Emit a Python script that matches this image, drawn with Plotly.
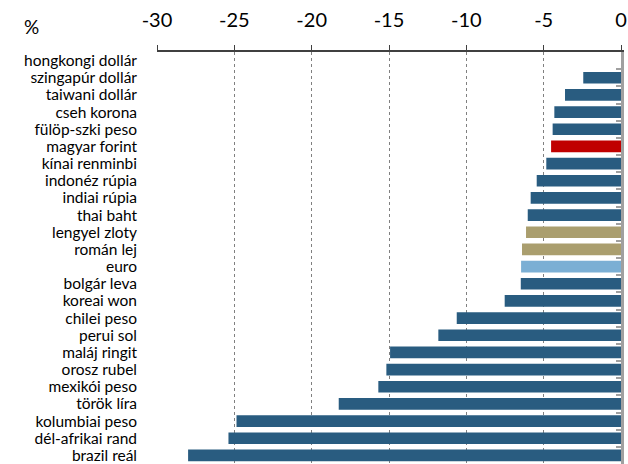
import plotly.graph_objects as go

categories = ["hongkongi dollár", "szingapúr dollár", "taiwani dollár", "cseh korona",
              "fülöp-szki peso", "magyar forint", "kínai renminbi", "indonéz rúpia",
              "indiai rúpia", "thai baht", "lengyel zloty", "román lej", "euro",
              "bolgár leva", "koreai won", "chilei peso", "perui sol", "maláj ringit",
              "orosz rubel", "mexikói peso", "török líra", "kolumbiai peso",
              "dél-afrikai rand", "brazil reál"]
values = [0.0, -2.44, -3.62, -4.31, -4.42, -4.52, -4.83, -5.45, -5.84, -6.03, -6.14,
          -6.40, -6.46, -6.48, -7.52, -10.62, -11.81, -14.93, -15.17, -15.69, -18.25,
          -24.86, -25.38, -27.99]
groups = ["other"] * 5 + ["hu"] + ["other"] * 4 + ["cee", "cee", "euro"] + ["other"] * 11
x_ticks = [-30, -25, -20, -15, -10, -5, 0]
x_tick_labels = ["-30", "-25", "-20", "-15", "-10", "-5", "0"]

color_map = {"other": "#295C80", "hu": "#C00000", "cee": "#AA9E6E", "euro": "#7BAFD4"}
colors = [color_map[g] for g in groups]

fig = go.Figure()
fig.add_trace(go.Bar(x=values, y=categories, orientation="h", marker_color=colors,
                     marker_line_width=0, showlegend=False))
fig.add_trace(go.Bar(x=values, y=categories, orientation="h", yaxis="y2",
                     marker_color="rgba(0,0,0,0)", marker_line_width=0,
                     showlegend=False, hoverinfo="skip"))

font = "Lato, Liberation Sans, Arial, sans-serif"
fig.update_layout(
    width=628, height=464,
    margin=dict(l=157, r=7, t=52, b=0),
    paper_bgcolor="white", plot_bgcolor="white",
    bargap=0.32,
    font=dict(family=font, color="#000000"),
    xaxis=dict(side="top", range=[-30, 0], tickvals=x_ticks, ticktext=x_tick_labels,
               ticks="outside", ticklen=5, tickcolor="#404040", tickwidth=1,
               showline=True, linecolor="#404040", linewidth=1.5,
               showgrid=True, gridcolor="#808080", griddash="dot", gridwidth=1,
               zeroline=False, tickfont=dict(size=20, color="#000000"),
               ticklabelstandoff=10, automargin=False),
    yaxis=dict(categoryorder="array", categoryarray=categories,
               tickmode="array", tickvals=categories,
               range=[23.5, -0.5], showline=False, ticks="",
               tickfont=dict(size=15.5, color="#000000"), ticklabelstandoff=19,
               showgrid=False, zeroline=False, automargin=False),
    yaxis2=dict(overlaying="y", matches="y", side="right", anchor="x",
                showticklabels=False, showline=True, linecolor="#A0A0A0",
                linewidth=2.5, ticks="inside", ticklen=5, tickcolor="#A0A0A0",
                tickwidth=1.5, tickson="boundaries", showgrid=False, zeroline=False,
                automargin=False),
    annotations=[dict(text="%", xref="paper", yref="paper", x=-0.27, y=1.0,
                      yshift=26, showarrow=False, xanchor="center", yanchor="middle",
                      font=dict(size=19, family=font, color="#000000"))],
)

fig.write_html("out.html", config={"displayModeBar": False},
               post_script="document.body.style.margin='0';document.body.style.padding='0';")
